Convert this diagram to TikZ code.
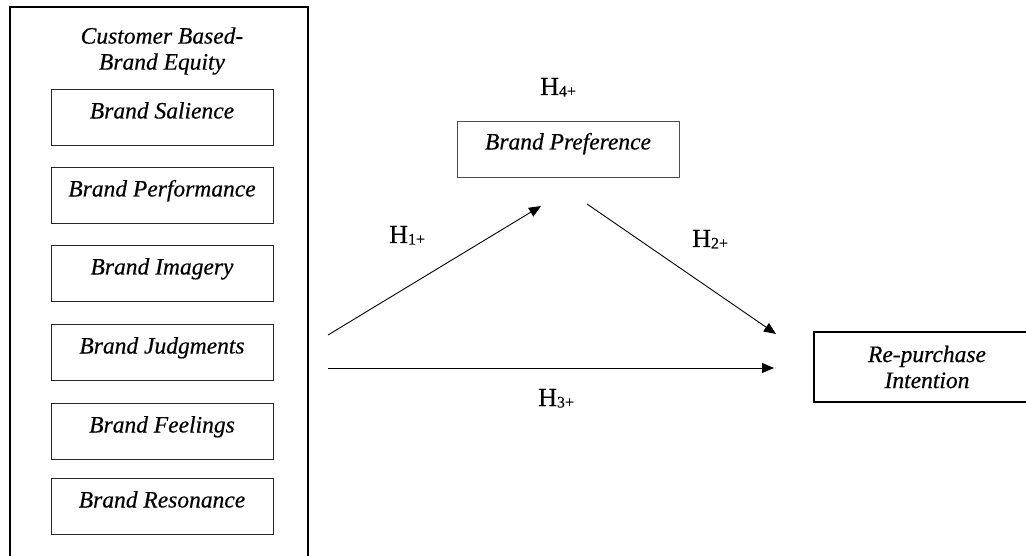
\documentclass[tikz,border=0pt]{standalone}
\usepackage{fontspec}
\setmainfont{Liberation Serif}[FakeBold=0.4]
\usetikzlibrary{arrows.meta}
\newcommand\hsub[1]{{\fontsize{16}{16}\selectfont\raisebox{-1.5pt}{#1}}}
\begin{document}
\begin{tikzpicture}[x=1pt,y=-1pt,
  brandbox/.style={draw=black!85, line width=1pt, minimum width=222pt, inner sep=0pt,
    text height=29pt, text depth=27pt, anchor=north,
    font=\fontsize{23.5}{28}\selectfont\itshape},
  titletext/.style={inner sep=0pt, align=center, font=\fontsize{23.5}{26}\selectfont\itshape},
  hyp/.style={anchor=base west, inner sep=0pt, font=\fontsize{26}{28}\selectfont},
  arr/.style={-{Triangle[length=12pt,width=10pt]}, line width=0.9pt}]
\useasboundingbox (0,0) rectangle (1026,556);
\clip (0,0) rectangle (1026,556);
% outer frame
\draw[line width=2pt] (10,7) rectangle (308,580);
\node[titletext] (cbbe) at (162,51) {Customer Based-\\Brand Equity};
\node[brandbox] (sal) at (162,89) {Brand Salience};
\node[brandbox] (perf) at (162,167) {Brand Performance};
\node[brandbox] (img) at (162,245) {Brand Imagery};
\node[brandbox] (judg) at (162,324) {Brand Judgments};
\node[brandbox] (feel) at (162,403) {Brand Feelings};
\node[brandbox] (reso) at (162,478) {Brand Resonance};
% brand preference
\node[brandbox, text height=28pt, text depth=28pt, draw=black!70] (pref) at (568,121) {Brand Preference};
% re-purchase intention
\node[draw, line width=1.5pt, minimum width=226pt, minimum height=70pt, inner sep=0pt,
  align=center, font=\fontsize{23.5}{26}\selectfont\itshape] (rpi) at (927,367) {Re-purchase\\Intention};
% arrow end points
\coordinate (a1s) at (328,335);
\coordinate (a1e) at (541,206);
\coordinate (a2s) at (587,204);
\coordinate (a2e) at (776,334);
\coordinate (a3s) at (328,368);
\coordinate (a3e) at (774,368);
\draw[arr] (a1s) -- (a1e);
\draw[arr] (a2s) -- (a2e);
\draw[arr] (a3s) -- (a3e);
% hypothesis labels
\node[hyp] (h4) at (540,95) {H\hsub{4+}};
\node[hyp] (h1) at (389,243) {H\hsub{1+}};
\node[hyp] (h2) at (692,247) {H\hsub{2+}};
\node[hyp] (h3) at (538,406) {H\hsub{3+}};
\end{tikzpicture}
\end{document}
